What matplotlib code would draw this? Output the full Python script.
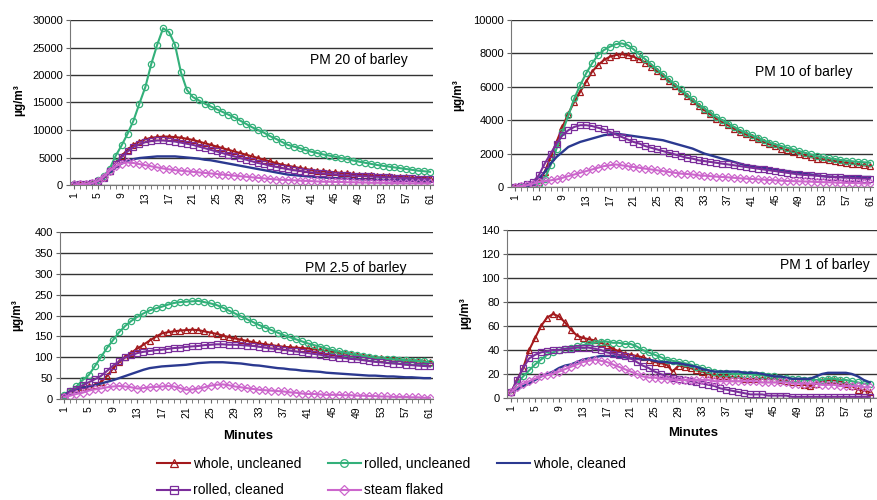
import numpy as np
import matplotlib
matplotlib.use("Agg")
import matplotlib.pyplot as plt
from matplotlib.lines import Line2D

plt.rcParams['font.family'] = ['Liberation Sans', 'DejaVu Sans']

minutes = list(range(1, 62))

# ---- PM 20 ----
pm20_whole_unc = [100, 150, 200, 300, 700, 1400, 2600, 4000, 5300, 6400,
                  7300, 7900, 8300, 8600, 8700, 8800, 8800, 8700, 8600, 8400,
                  8200, 7900, 7600, 7300, 7000, 6700, 6400, 6100, 5800, 5500,
                  5200, 4900, 4600, 4300, 4000, 3700, 3500, 3300, 3100, 2900,
                  2750, 2600, 2500, 2400, 2300, 2200, 2100, 2000, 1900, 1800,
                  1750, 1700, 1600, 1550, 1500, 1450, 1400, 1350, 1300, 1250, 1200]
pm20_rolled_unc = [100, 150, 250, 400, 900, 1600, 3000, 5300, 7200, 9300,
                   11700, 14800, 17800, 22000, 25500, 28500, 27800, 25500, 20500, 17300,
                   16000, 15400, 14800, 14300, 13800, 13300, 12800, 12300, 11700, 11100,
                   10500, 10000, 9500, 8900, 8400, 7850, 7300, 7000, 6700, 6350,
                   6050, 5800, 5550, 5350, 5150, 4900, 4700, 4450, 4250, 4050,
                   3850, 3650, 3500, 3350, 3200, 3050, 2900, 2750, 2600, 2500, 2400]
pm20_whole_cl = [100, 100, 150, 250, 600, 1300, 2300, 3200, 3900, 4400,
                 4700, 4900, 5000, 5100, 5200, 5200, 5200, 5200, 5100, 5000,
                 4900, 4800, 4600, 4500, 4300, 4100, 3900, 3700, 3500, 3300,
                 3100, 2900, 2700, 2500, 2300, 2100, 1900, 1800, 1700, 1600,
                 1500, 1400, 1350, 1300, 1250, 1200, 1150, 1100, 1050, 1000,
                 1000, 950, 950, 900, 900, 850, 850, 800, 800, 800, 750]
pm20_rolled_cl = [50, 100, 200, 300, 700, 1300, 2500, 3900, 5100, 6100,
                  6900, 7400, 7800, 8000, 8100, 8100, 8000, 7900, 7700, 7500,
                  7300, 7000, 6700, 6400, 6100, 5800, 5500, 5200, 4900, 4600,
                  4300, 4000, 3800, 3500, 3300, 3100, 2900, 2700, 2600, 2400,
                  2300, 2200, 2100, 2000, 1900, 1800, 1750, 1700, 1650, 1600,
                  1550, 1500, 1450, 1400, 1350, 1300, 1250, 1200, 1150, 1100, 1050]
pm20_steam = [100, 150, 200, 300, 700, 1500, 2600, 3400, 3900, 4100,
              4000, 3800, 3600, 3400, 3200, 3000, 2850, 2700, 2600, 2500,
              2400, 2300, 2200, 2100, 2000, 1900, 1800, 1700, 1600, 1500,
              1400, 1300, 1200, 1100, 1000, 950, 900, 850, 800, 750,
              700, 650, 600, 600, 550, 550, 500, 500, 450, 450,
              400, 400, 400, 350, 350, 350, 300, 300, 300, 300, 300]

# ---- PM 10 ----
pm10_whole_unc = [0, 0, 50, 100, 300, 900, 1800, 2700, 3600, 4400,
                  5100, 5700, 6300, 6900, 7300, 7600, 7800, 7900, 7950, 7900,
                  7800, 7650, 7450, 7200, 6950, 6650, 6350, 6050, 5750, 5450,
                  5150, 4850, 4600, 4350, 4100, 3900, 3700, 3500, 3300, 3150,
                  3000, 2850, 2700, 2550, 2450, 2300, 2200, 2100, 2000, 1900,
                  1800, 1700, 1650, 1600, 1550, 1500, 1450, 1400, 1350, 1300, 1250]
pm10_rolled_unc = [0, 0, 50, 100, 200, 500, 1300, 2300, 3300, 4300,
                   5300, 6100, 6800, 7400, 7900, 8200, 8400, 8550, 8600, 8500,
                   8250, 7950, 7650, 7350, 7050, 6750, 6450, 6150, 5850, 5550,
                   5250, 4950, 4700, 4450, 4200, 4000, 3800, 3600, 3400, 3250,
                   3100, 2950, 2800, 2650, 2550, 2450, 2350, 2250, 2150, 2050,
                   1950, 1850, 1780, 1720, 1670, 1620, 1580, 1540, 1500, 1480, 1450]
pm10_whole_cl = [0, 0, 50, 150, 500, 900, 1400, 1800, 2100, 2400,
                 2550, 2700, 2800, 2900, 3000, 3100, 3150, 3200, 3150, 3100,
                 3050, 3000, 2950, 2900, 2850, 2800, 2700, 2600, 2500, 2400,
                 2300, 2150, 2000, 1900, 1800, 1700, 1600, 1500, 1400, 1300,
                 1250, 1200, 1150, 1100, 1050, 1000, 950, 900, 850, 800,
                 750, 700, 650, 620, 600, 600, 600, 600, 600, 600, 600]
pm10_rolled_cl = [0, 50, 150, 300, 700, 1400, 2000, 2600, 3100, 3400,
                  3600, 3700, 3700, 3650, 3550, 3450, 3300, 3150, 3000, 2850,
                  2700, 2600, 2450, 2350, 2250, 2150, 2050, 1950, 1850, 1750,
                  1700, 1600, 1550, 1500, 1450, 1400, 1350, 1300, 1250, 1200,
                  1150, 1100, 1050, 1000, 950, 900, 850, 800, 750, 720,
                  700, 680, 650, 620, 600, 580, 560, 540, 520, 500, 480]
pm10_steam = [0, 50, 100, 200, 300, 350, 400, 450, 550, 650,
              750, 850, 950, 1050, 1150, 1250, 1300, 1350, 1300, 1250,
              1200, 1150, 1100, 1050, 1000, 950, 900, 850, 800, 780,
              750, 700, 680, 650, 620, 600, 580, 550, 520, 500,
              480, 460, 440, 420, 400, 380, 360, 350, 340, 330,
              320, 300, 290, 280, 270, 260, 250, 240, 230, 220, 210]

# ---- PM 2.5 ----
pm25_whole_unc = [10, 18, 25, 28, 30, 33, 40, 55, 73, 88,
                  100, 111, 121, 130, 140, 149, 157, 160, 162, 164,
                  165, 166, 165, 162, 159, 156, 152, 148, 145, 142,
                  139, 136, 133, 131, 129, 127, 125, 124, 123, 122,
                  121, 119, 117, 115, 113, 111, 109, 107, 105, 103,
                  101, 99, 98, 96, 95, 94, 92, 91, 90, 89, 89]
pm25_rolled_unc = [10, 20, 30, 45, 57, 78, 100, 122, 141, 160,
                   175, 187, 197, 205, 212, 217, 221, 226, 230, 232,
                   233, 234, 235, 232, 229, 225, 219, 212, 205, 198,
                   191, 184, 177, 171, 165, 159, 153, 148, 143, 138,
                   133, 129, 125, 121, 117, 114, 111, 108, 105, 103,
                   101, 99, 97, 96, 95, 94, 93, 92, 91, 90, 86]
pm25_whole_cl = [10, 18, 23, 27, 30, 33, 37, 41, 45, 50,
                 55, 60, 65, 70, 74, 76, 78, 79, 80, 81,
                 82, 84, 86, 87, 88, 88, 88, 87, 86, 85,
                 83, 81, 80, 78, 76, 74, 73, 71, 70, 68,
                 67, 66, 65, 63, 62, 61, 60, 59, 58, 57,
                 56, 56, 55, 54, 54, 53, 52, 52, 51, 50, 50]
pm25_rolled_cl = [5, 18, 25, 33, 40, 47, 55, 67, 80, 90,
                  100, 105, 110, 113, 115, 117, 118, 120, 122, 123,
                  125, 126, 127, 129, 130, 131, 131, 130, 130, 129,
                  128, 127, 125, 123, 121, 120, 118, 116, 114, 112,
                  110, 108, 106, 103, 100, 99, 98, 96, 95, 93,
                  91, 89, 88, 86, 85, 84, 82, 81, 80, 79, 78]
pm25_steam = [5, 8, 12, 15, 20, 23, 25, 28, 30, 31,
              30, 28, 25, 26, 28, 29, 30, 31, 30, 26,
              22, 23, 25, 28, 32, 34, 35, 33, 30, 28,
              26, 24, 22, 21, 20, 19, 18, 16, 15, 13,
              12, 12, 11, 10, 10, 10, 9, 9, 8, 8,
              7, 7, 6, 6, 5, 5, 5, 4, 4, 3, 3]

# ---- PM 1 ----
pm1_whole_unc = [5, 15, 25, 40, 50, 60, 67, 70, 68, 63,
                 57, 52, 50, 49, 48, 46, 44, 41, 39, 37,
                 36, 35, 34, 32, 30, 29, 28, 22, 27, 26,
                 25, 23, 22, 20, 19, 18, 18, 17, 17, 16,
                 16, 16, 16, 16, 16, 15, 14, 13, 13, 11,
                 10, 12, 14, 15, 15, 14, 12, 10, 7, 6, 5]
pm1_rolled_unc = [5, 12, 18, 23, 28, 32, 36, 38, 40, 41,
                  42, 43, 44, 45, 46, 47, 47, 46, 46, 45,
                  45, 43, 40, 38, 36, 34, 32, 31, 30, 29,
                  28, 26, 25, 23, 22, 21, 21, 20, 20, 20,
                  20, 19, 19, 18, 18, 17, 17, 16, 16, 15,
                  15, 15, 15, 16, 16, 15, 15, 14, 13, 12, 12]
pm1_whole_cl = [5, 7, 10, 12, 15, 18, 20, 22, 25, 27,
                28, 30, 32, 33, 34, 35, 35, 35, 34, 34,
                33, 33, 32, 32, 31, 30, 30, 29, 29, 28,
                27, 26, 24, 23, 22, 22, 22, 22, 22, 21,
                21, 21, 20, 19, 18, 18, 17, 16, 16, 16,
                16, 18, 20, 21, 21, 21, 21, 20, 18, 15, 13]
pm1_rolled_cl = [5, 15, 25, 33, 36, 38, 39, 40, 40, 41,
                 41, 42, 42, 42, 41, 40, 38, 37, 36, 35,
                 33, 30, 27, 25, 22, 20, 18, 17, 16, 15,
                 14, 13, 12, 11, 10, 8, 7, 6, 5, 4,
                 3, 3, 3, 2, 2, 2, 2, 1, 1, 1,
                 1, 1, 1, 1, 1, 1, 1, 1, 1, 1, 1]
pm1_steam = [5, 9, 12, 14, 16, 18, 19, 20, 22, 24,
             26, 28, 30, 31, 32, 31, 30, 28, 26, 24,
             22, 20, 18, 17, 17, 16, 16, 15, 15, 15,
             15, 15, 15, 15, 14, 14, 14, 14, 14, 14,
             14, 14, 13, 13, 13, 13, 13, 12, 12, 12,
             12, 12, 11, 11, 11, 10, 10, 10, 10, 9, 9]

names = ["whole, uncleaned", "rolled, uncleaned", "whole, cleaned",
         "rolled, cleaned", "steam flaked"]
colors = ["#A3191C", "#33B07A", "#2B3990", "#7B2D9B", "#CC66CC"]
markers = ["^", "o", None, "s", "D"]
msizes = [4.5, 4.5, 0, 4.5, 4]

panels = [
    {"pos": [70/877, 1-185/500, 363/877, 165/500], "title": "PM 20 of barley",
     "tpos": (310, 60), "ymax": 30000, "ystep": 5000, "ylab": (19, 100),
     "series": [pm20_whole_unc, pm20_rolled_unc, pm20_whole_cl, pm20_rolled_cl, pm20_steam],
     "xlabel": None, "xmax": 61.5},
    {"pos": [511/877, 1-187/500, 362/877, 167/500], "title": "PM 10 of barley",
     "tpos": (755, 72), "ymax": 10000, "ystep": 2000, "ylab": (458, 95),
     "series": [pm10_whole_unc, pm10_rolled_unc, pm10_whole_cl, pm10_rolled_cl, pm10_steam],
     "xlabel": None, "xmax": 61.5},
    {"pos": [60/877, 1-399/500, 373/877, 167/500], "title": "PM 2.5 of barley",
     "tpos": (305, 268), "ymax": 400, "ystep": 50, "ylab": (17, 315),
     "series": [pm25_whole_unc, pm25_rolled_unc, pm25_whole_cl, pm25_rolled_cl, pm25_steam],
     "xlabel": (248, 436), "xmax": 61.5},
    {"pos": [507/877, 1-398/500, 370/877, 168/500], "title": "PM 1 of barley",
     "tpos": (780, 265), "ymax": 140, "ystep": 20, "ylab": (465, 313),
     "series": [pm1_whole_unc, pm1_rolled_unc, pm1_whole_cl, pm1_rolled_cl, pm1_steam],
     "xlabel": (693, 433), "xmax": 62.2},
]

fig = plt.figure(figsize=(8.77, 5.0), dpi=100)

for p in panels:
    ax = fig.add_axes(p["pos"])
    for i, vals in enumerate(p["series"]):
        if markers[i]:
            ax.plot(minutes, vals, color=colors[i], lw=1.5, marker=markers[i],
                    ms=msizes[i], mfc="none", mew=0.9)
        else:
            ax.plot(minutes, vals, color=colors[i], lw=1.7)
    ax.set_xlim(0.3, p["xmax"])
    ax.set_ylim(0, p["ymax"])
    ax.set_yticks(np.arange(0, p["ymax"] + 1, p["ystep"]))
    ax.set_xticks(list(range(1, 62, 4)))
    ax.set_xticks(minutes, minor=True)
    ax.tick_params(axis="x", which="major", labelrotation=90, labelsize=7.5,
                   length=3, color="#666666", pad=2)
    ax.tick_params(axis="x", which="minor", length=3, color="#666666")
    ax.tick_params(axis="y", labelsize=8, length=3, color="#666666", pad=2)
    ax.grid(axis="y", color="#333333", lw=1.0)
    ax.set_axisbelow(True)
    for s in ["top", "right"]:
        ax.spines[s].set_visible(False)
    for s in ["left", "bottom"]:
        ax.spines[s].set_color("#777777")
    fig.text(p["tpos"][0]/877, 1-p["tpos"][1]/500, p["title"], fontsize=10,
             ha="left", va="center")
    fig.text(p["ylab"][0]/877, 1-p["ylab"][1]/500, "µg/m³", fontsize=8.5,
             fontweight="bold", rotation=90, ha="center", va="center")
    if p["xlabel"]:
        fig.text(p["xlabel"][0]/877, 1-p["xlabel"][1]/500, "Minutes", fontsize=9.5,
                 fontweight="bold", ha="center", va="center")

handles = []
for i in range(5):
    handles.append(Line2D([], [], color=colors[i], lw=1.5, marker=markers[i],
                          ms=msizes[i] + 1, mfc="none", mew=0.9))
order = [0, 3, 1, 4, 2]
fig.legend([handles[i] for i in order], [names[i] for i in order], ncol=3,
           loc="upper left", bbox_to_anchor=(150/877, 1-450/500), frameon=False,
           fontsize=10, borderpad=0, handlelength=2.4, handletextpad=0.2,
           columnspacing=1.9, labelspacing=0.9)

fig.savefig("out.png", dpi=100)
